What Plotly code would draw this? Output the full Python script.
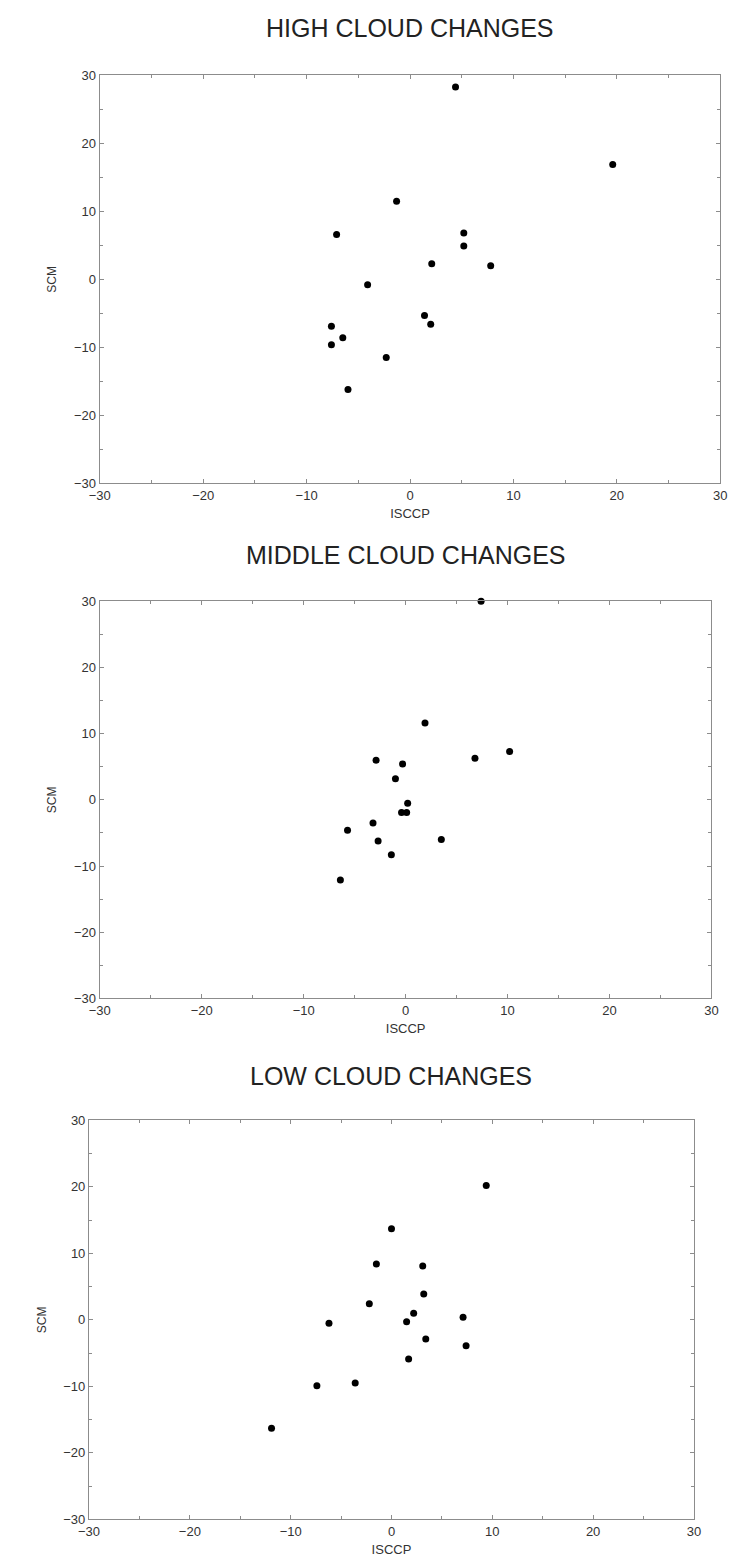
import plotly.graph_objects as go

# HIGH cloud changes
high_isccp = [4.4, 19.6, -1.3, -7.1, 5.2, 5.2, 2.1, 7.8, -4.1, 1.4, 2.0, -7.6, -6.5, -7.6, -2.3, -6.0]
high_scm   = [28.3, 16.9, 11.5, 6.6, 6.8, 4.9, 2.3, 2.0, -0.8, -5.3, -6.6, -6.9, -8.6, -9.6, -11.5, -16.2]

# MIDDLE cloud changes
mid_isccp = [7.4, 1.9, 10.2, 6.8, -2.9, -0.3, -1.0, 0.2, -0.4, 0.1, -3.2, -5.7, 3.5, -2.7, -1.4, -6.4]
mid_scm   = [30.0, 11.6, 7.3, 6.3, 6.0, 5.4, 3.2, -0.5, -1.9, -1.9, -3.5, -4.6, -6.0, -6.2, -8.3, -12.1]

# LOW cloud changes
low_isccp = [9.4, 0.0, -1.5, 3.1, 3.2, -2.2, 2.2, 7.1, 1.5, -6.2, 3.4, 7.4, 1.7, -3.6, -7.4, -11.9]
low_scm   = [20.2, 13.7, 8.4, 8.1, 3.9, 2.4, 1.0, 0.4, -0.3, -0.5, -2.9, -3.9, -5.9, -9.5, -9.9, -16.3]

titles = ["HIGH CLOUD CHANGES", "MIDDLE CLOUD CHANGES", "LOW CLOUD CHANGES"]
tick_vals = [-30, -20, -10, 0, 10, 20, 30]
tick_text = ["\u221230", "\u221220", "\u221210", "0", "10", "20", "30"]
x_title = "ISCCP"
y_title = "SCM"

W, H = 738, 1568
# pixel boxes: (left, right, top, bottom)
boxes = [(91, 727, 69, 481), (91, 718, 600, 1001), (80, 700, 1124, 1527)]
title_y = [21, 553, 1079]

fig = go.Figure()
datasets = [(high_isccp, high_scm), (mid_isccp, mid_scm), (low_isccp, low_scm)]
font_fam = "Liberation Sans, Arial, sans-serif"
axis_col = "#8c8c8c"
txt_col = "#333333"

for i, ((xs, ys), (l, r, t, b)) in enumerate(zip(datasets, boxes)):
    n = "" if i == 0 else str(i + 1)
    fig.add_trace(go.Scatter(
        x=xs, y=ys, mode="markers",
        marker=dict(color="black", size=7),
        xaxis="x" + n, yaxis="y" + n, showlegend=False, cliponaxis=False))
    common = dict(
        range=[-30, 30], tickvals=tick_vals, ticktext=tick_text,
        showgrid=False, zeroline=False, showline=True, linecolor=axis_col, linewidth=1.2,
        mirror="ticks", ticks="inside", ticklen=4, tickcolor=axis_col,
        minor=dict(ticks="inside", dtick=5, tick0=0, ticklen=3, tickcolor=axis_col, showgrid=False),
        tickfont=dict(family=font_fam, size=13, color=txt_col),
        fixedrange=True)
    fig.update_layout(**{
        "xaxis" + n: dict(common, domain=[l / W, r / W], anchor="y" + n,
                          title=dict(text=x_title, font=dict(family=font_fam, size=13, color=txt_col), standoff=6)),
        "yaxis" + n: dict(common, domain=[1 - b / H, 1 - t / H], anchor="x" + n,
                          title=dict(text=y_title, font=dict(family=font_fam, size=12, color=txt_col), standoff=14)),
    })
    fig.add_annotation(text=titles[i], x=(l + r) / 2 / W, y=1 - title_y[i] / H,
                       xref="paper", yref="paper", showarrow=False,
                       xanchor="center", yanchor="middle",
                       font=dict(family=font_fam, size=25, color="#222"))

fig.update_layout(width=W, height=H, margin=dict(l=0, r=0, t=0, b=0),
                  paper_bgcolor="white", plot_bgcolor="white")
fig.write_html("out.html")
